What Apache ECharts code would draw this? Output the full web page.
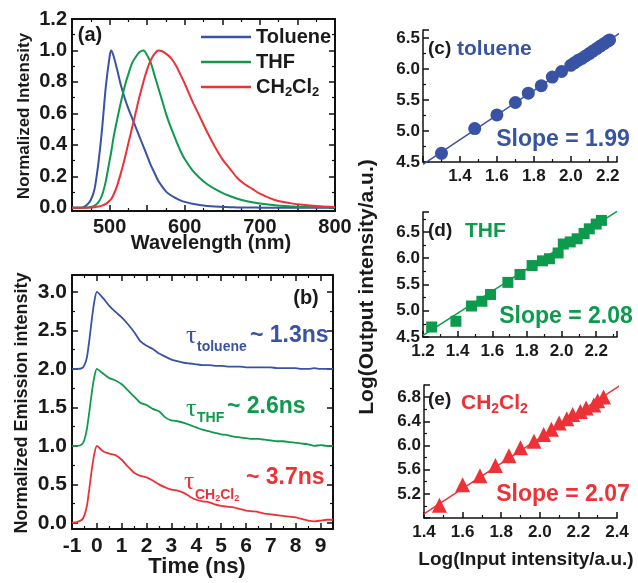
<!DOCTYPE html>
<html>
<head>
<meta charset="utf-8">
<script src="https://cdn.jsdelivr.net/npm/echarts@6/dist/echarts.min.js"></script>
<style>
  html, body { margin: 0; padding: 0; background: #fff; }
  #chart { width: 638px; height: 583px; }
</style>
</head>
<body>
<div id="chart"></div>
<script>
// ---- data ----
const solvents = ['Toluene', 'THF', 'CH2Cl2'];
const colors = ['#3953a4', '#0e9a4c', '#ec3237'];

// (a) normalized PL spectra
const wavelength = [450, 460, 465, 470, 475, 480, 485, 490, 495, 500, 502, 505, 510, 515, 520, 525, 530, 535, 540, 545,
  550, 555, 560, 565, 570, 575, 580, 585, 590, 595, 600, 610, 620, 630, 640, 650, 660, 670, 680, 690,
  700, 720, 740, 760, 780, 800];
const plToluene = [0, 0, 0.005, 0.02, 0.05, 0.12, 0.28, 0.5, 0.77, 0.96, 1.0, 0.97, 0.88, 0.78, 0.7, 0.63, 0.57, 0.51, 0.45, 0.39,
  0.33, 0.27, 0.22, 0.17, 0.135, 0.105, 0.085, 0.07, 0.057, 0.046, 0.038, 0.026, 0.018, 0.012, 0.008, 0.006, 0.004, 0.003, 0.002, 0.002,
  0.001, 0.001, 0, 0, 0, 0];
const plTHF = [0, 0, 0, 0.002, 0.006, 0.015, 0.035, 0.08, 0.17, 0.3, 0.35, 0.44, 0.56, 0.67, 0.77, 0.85, 0.92, 0.96, 0.99, 1.0,
  0.97, 0.92, 0.84, 0.76, 0.68, 0.6, 0.53, 0.47, 0.41, 0.355, 0.31, 0.24, 0.19, 0.15, 0.12, 0.095, 0.075, 0.058, 0.045, 0.035,
  0.027, 0.016, 0.01, 0.006, 0.004, 0.002];
const plCH2Cl2 = [0, 0, 0, 0, 0.002, 0.004, 0.008, 0.014, 0.025, 0.045, 0.055, 0.08, 0.14, 0.22, 0.31, 0.41, 0.51, 0.61, 0.71, 0.8,
  0.88, 0.94, 0.98, 1.0, 0.995, 0.98, 0.96, 0.93, 0.89, 0.84, 0.79, 0.68, 0.58, 0.48, 0.39, 0.31, 0.25, 0.19, 0.15, 0.12,
  0.09, 0.05, 0.03, 0.018, 0.01, 0.006];

// (b) time-resolved emission (offset curves)
const decayTime = [-1, -0.8, -0.6, -0.5, -0.4, -0.3, -0.2, -0.1, 0, 0.25, 0.5, 0.75, 1, 1.25, 1.5, 1.75, 2, 2.25, 2.5, 2.75,
  3, 3.25, 3.5, 3.75, 4, 4.25, 4.5, 4.75, 5, 5.25, 5.5, 5.75, 6, 6.25, 6.5, 6.75, 7, 7.25, 7.5, 7.75,
  8, 8.25, 8.5, 8.75, 9, 9.25, 9.5];
const decayToluene = [2.0, 2.0, 2.01, 2.05, 2.15, 2.38, 2.65, 2.88, 3.0, 2.92, 2.82, 2.74, 2.67, 2.58, 2.48, 2.36, 2.3, 2.26, 2.2, 2.16,
  2.12, 2.1, 2.08, 2.07, 2.06, 2.05, 2.05, 2.04, 2.04, 2.03, 2.03, 2.03, 2.02, 2.02, 2.02, 2.02, 2.02, 2.01, 2.01, 2.01,
  2.01, 2.0, 2.0, 2.01, 2.0, 2.0, 2.0];
const decayTHF = [1.0, 1.0, 1.02, 1.08, 1.22, 1.45, 1.7, 1.9, 2.0, 1.94, 1.88, 1.85, 1.8, 1.72, 1.64, 1.56, 1.53, 1.48, 1.45, 1.37,
  1.33, 1.32, 1.3, 1.27, 1.24, 1.21, 1.19, 1.17, 1.15, 1.14, 1.12, 1.11, 1.1, 1.09, 1.09, 1.08, 1.07, 1.06, 1.06, 1.05,
  1.04, 1.03, 1.02, 1.0, 1.01, 1.0, 1.0];
const decayCH2Cl2 = [0.0, 0.01, 0.04, 0.1, 0.22, 0.45, 0.7, 0.9, 1.0, 0.93, 0.9, 0.88, 0.82, 0.73, 0.65, 0.61, 0.59, 0.55, 0.5, 0.46,
  0.43, 0.42, 0.39, 0.34, 0.3, 0.28, 0.27, 0.24, 0.22, 0.21, 0.2, 0.18, 0.16, 0.15, 0.14, 0.12, 0.11, 0.1, 0.09, 0.08,
  0.07, 0.05, 0.03, 0.02, 0.03, 0.04, 0.04];

// (c)-(e) log output vs log input
const tolueneIn = [1.30, 1.48, 1.60, 1.70, 1.77, 1.84, 1.90, 1.95, 2.00, 2.02, 2.04, 2.06, 2.08, 2.10, 2.12, 2.14, 2.16, 2.18, 2.20, 2.21];
const tolueneOut = [4.64, 5.04, 5.26, 5.46, 5.61, 5.73, 5.87, 5.96, 6.06, 6.10, 6.14, 6.17, 6.21, 6.25, 6.29, 6.33, 6.37, 6.41, 6.45, 6.47];
const thfIn = [1.25, 1.39, 1.48, 1.54, 1.59, 1.69, 1.76, 1.83, 1.89, 1.93, 1.98, 2.01, 2.05, 2.09, 2.13, 2.16, 2.20, 2.23];
const thfOut = [4.69, 4.80, 5.09, 5.18, 5.31, 5.54, 5.69, 5.86, 5.95, 5.99, 6.10, 6.27, 6.31, 6.37, 6.47, 6.56, 6.65, 6.72];
const dcmIn = [1.48, 1.60, 1.69, 1.77, 1.84, 1.90, 1.97, 2.02, 2.06, 2.10, 2.14, 2.17, 2.21, 2.24, 2.28, 2.30, 2.33];
const dcmOut = [5.01, 5.35, 5.50, 5.67, 5.83, 5.96, 6.07, 6.18, 6.27, 6.37, 6.44, 6.51, 6.56, 6.62, 6.67, 6.74, 6.80];
// fitted lines (end points)
const tolueneFitIn = [1.2, 2.30], tolueneFitOut = [4.46, 6.65];
const thfFitIn = [1.2, 2.32], thfFitOut = [4.53, 6.89];
const dcmFitIn = [1.4, 2.42], dcmFitOut = [4.87, 7.0];
const slopes = ['1.99', '2.08', '2.07'];
const lifetimes = ['1.3', '2.6', '3.7'];

// tick labels shown on each axis
const aXLabels = ['500', '600', '700', '800'];
const aYLabels = ['0.0', '0.2', '0.4', '0.6', '0.8', '1.0', '1.2'];
const bXLabels = ['-1', '0', '1', '2', '3', '4', '5', '6', '7', '8', '9'];
const bYLabels = ['0.0', '0.5', '1.0', '1.5', '2.0', '2.5', '3.0'];
const cXLabels = ['1.4', '1.6', '1.8', '2.0', '2.2'];
const cYLabels = ['4.5', '5.0', '5.5', '6.0', '6.5'];
const dXLabels = ['1.2', '1.4', '1.6', '1.8', '2.0', '2.2'];
const dYLabels = ['4.5', '5.0', '5.5', '6.0', '6.5'];
const eXLabels = ['1.4', '1.6', '1.8', '2.0', '2.2', '2.4'];
const eYLabels = ['5.2', '5.6', '6.0', '6.4', '6.8'];

const FONT = '"Liberation Sans", Arial, sans-serif';
const zip = (xs, ys) => xs.map((x, i) => [x, ys[i]]);

function labelFmt(list, digits) {
  return function (v) {
    const s = v.toFixed(digits);
    return (list.indexOf(s) >= 0 && Math.abs(v - parseFloat(s)) < 1e-6) ? s : '';
  };
}

function makeAxis(o) {
  const ax = {
    type: 'value',
    gridIndex: o.grid,
    position: o.position,
    min: o.min,
    max: o.max,
    splitLine: { show: false },
    axisLine: { show: true, onZero: false, lineStyle: { color: '#111', width: o.lw || 2 } },
    axisTick: { show: true, inside: true, length: 6, lineStyle: { color: '#111', width: 1.5 } },
    minorTick: { show: true, splitNumber: 2, length: 3, lineStyle: { color: '#111', width: 1.2 } },
    axisLabel: {
      show: !!o.labels,
      fontFamily: FONT, fontWeight: 'bold', fontSize: o.fs || 20, color: '#1a1a1a',
      margin: o.margin || 6,
      formatter: o.labels ? labelFmt(o.labels, o.digits) : undefined
    }
  };
  if (o.interval !== undefined) ax.interval = o.interval;
  if (o.splitNumber !== undefined) ax.splitNumber = o.splitNumber;
  return ax;
}

const chart = echarts.init(document.getElementById('chart'));

const lineSeries = (name, xs, ys, ci, xi, width, smooth) => ({
  name: name, type: 'line', xAxisIndex: xi, yAxisIndex: xi,
  data: zip(xs, ys), showSymbol: false, smooth: smooth,
  lineStyle: { color: colors[ci], width: width }, itemStyle: { color: colors[ci] },
  emphasis: { disabled: true }
});
const scatterSeries = (xs, ys, ci, xi, symbol, size) => ({
  type: 'scatter', xAxisIndex: xi, yAxisIndex: xi, data: zip(xs, ys),
  symbol: symbol, symbolSize: size, itemStyle: { color: colors[ci], opacity: 1 }, z: 3
});
const fitSeries = (xs, ys, ci, xi) => ({
  type: 'line', xAxisIndex: xi, yAxisIndex: xi, data: zip(xs, ys), clip: false,
  showSymbol: false, lineStyle: { color: colors[ci], width: 1.5 }, z: 2
});

const txt = (text, x, y, size, fill, extra) => Object.assign({
  type: 'text', x: x, y: y,
  style: Object.assign({
    text: text, font: `bold ${size}px ${FONT}`, fill: fill,
    align: 'left', verticalAlign: 'middle', textAlign: 'left', textVerticalAlign: 'middle'
  }, extra && extra.style)
}, extra && extra.el);
const center = { style: { align: 'center', textAlign: 'center' } };
const vert = { style: { align: 'center', textAlign: 'center' }, el: { rotation: Math.PI / 2 } };
const subRich = (size, fill) => ({
  m: { fontSize: size, fontWeight: 'bold', fontFamily: FONT, fill: fill, color: fill },
  s: { fontSize: Math.round(size * 0.65), fontWeight: 'bold', fontFamily: FONT, fill: fill, color: fill, padding: [Math.round(size * 0.55), 0, 0, 0] }
});
const dcmRich = '{m|CH}{s|2}{m|Cl}{s|2}';
const tau = (x, y, c) => txt('τ', x, y, 26, colors[c], { style: { font: `26px "Liberation Serif", serif` } });

const option = {
  animation: false,
  backgroundColor: '#fff',
  grid: [
    { left: 72, top: 19, width: 263, height: 192 },
    { left: 72, top: 275, width: 261, height: 254 },
    { left: 423, top: 30, width: 194, height: 132 },
    { left: 423, top: 212, width: 194, height: 125 },
    { left: 424, top: 385, width: 193, height: 133 }
  ],
  xAxis: [
    makeAxis({ grid: 0, position: 'bottom', min: 450, max: 800, interval: 50, labels: aXLabels, digits: 0 }),
    makeAxis({ grid: 0, position: 'top', min: 450, max: 800, interval: 50 }),
    makeAxis({ grid: 1, position: 'bottom', min: -1, max: 9.5, interval: 1, labels: bXLabels, digits: 0, fs: 21, margin: 7 }),
    makeAxis({ grid: 1, position: 'top', min: -1, max: 9.5, interval: 1 }),
    makeAxis({ grid: 2, position: 'bottom', min: 1.2, max: 2.25, interval: 0.2, labels: cXLabels, digits: 1, fs: 17, lw: 1.5 }),
    makeAxis({ grid: 3, position: 'bottom', min: 1.2, max: 2.32, interval: 0.2, labels: dXLabels, digits: 1, fs: 17, lw: 1.5 }),
    makeAxis({ grid: 4, position: 'bottom', min: 1.4, max: 2.4, interval: 0.2, labels: eXLabels, digits: 1, fs: 17, lw: 1.5 })
  ],
  yAxis: [
    makeAxis({ grid: 0, position: 'left', min: -0.02, max: 1.2, splitNumber: 6, labels: aYLabels, digits: 1, margin: 5 }),
    makeAxis({ grid: 0, position: 'right', min: -0.02, max: 1.2, splitNumber: 6 }),
    makeAxis({ grid: 1, position: 'left', min: -0.08, max: 3.22, splitNumber: 6, labels: bYLabels, digits: 1, fs: 21, margin: 5 }),
    makeAxis({ grid: 1, position: 'right', min: -0.08, max: 3.22, splitNumber: 6 }),
    makeAxis({ grid: 2, position: 'left', min: 4.5, max: 6.63, interval: 0.5, labels: cYLabels, digits: 1, fs: 17, lw: 1.5, margin: 3 }),
    makeAxis({ grid: 3, position: 'left', min: 4.5, max: 6.88, interval: 0.5, labels: dYLabels, digits: 1, fs: 17, lw: 1.5, margin: 3 }),
    makeAxis({ grid: 4, position: 'left', min: 4.8, max: 7.0, interval: 0.4, labels: eYLabels, digits: 1, fs: 17, lw: 1.5, margin: 3 })
  ],
  legend: {
    data: solvents, orient: 'vertical', left: 196, top: 22, itemWidth: 50, itemHeight: 2.5, itemGap: 5,
    icon: 'rect', selectedMode: false,
    formatter: n => n === 'CH2Cl2' ? dcmRich : '{m|' + n + '}',
    textStyle: { color: '#1a1a1a', rich: subRich(20, '#1a1a1a') }
  },
  series: [
    lineSeries('Toluene', wavelength, plToluene, 0, 0, 2, 0.3),
    lineSeries('THF', wavelength, plTHF, 1, 0, 2, 0.3),
    lineSeries('CH2Cl2', wavelength, plCH2Cl2, 2, 0, 2, 0.3),
    lineSeries('toluene decay', decayTime, decayToluene, 0, 2, 1.8, 0.2),
    lineSeries('THF decay', decayTime, decayTHF, 1, 2, 1.8, 0.2),
    lineSeries('CH2Cl2 decay', decayTime, decayCH2Cl2, 2, 2, 1.8, 0.2),
    fitSeries(tolueneFitIn, tolueneFitOut, 0, 4),
    scatterSeries(tolueneIn, tolueneOut, 0, 4, 'circle', 13),
    fitSeries(thfFitIn, thfFitOut, 1, 5),
    scatterSeries(thfIn, thfOut, 1, 5, 'rect', 11),
    fitSeries(dcmFitIn, dcmFitOut, 2, 6),
    scatterSeries(dcmIn, dcmOut, 2, 6, 'triangle', 15)
  ],
  graphic: [
    txt('(a)', 90, 35, 20, '#1a1a1a', center),
    txt('(b)', 306, 298, 20, '#1a1a1a', center),
    txt('Wavelength (nm)', 211, 243, 20, '#1a1a1a', center),
    txt('Time (ns)', 197, 567, 22, '#1a1a1a', center),
    txt('Normalized Intensity', 24, 116, 17, '#1a1a1a', vert),
    txt('Normalized Emission intensity', 22, 403, 18, '#1a1a1a', vert),
    txt('Log(Output intensity/a.u.)', 367, 287, 21, '#1a1a1a', vert),
    txt('Log(Input intensity/a.u.)', 526, 560, 19, '#1a1a1a', center),
    // panel tags c-e
    txt('(c)', 428, 49, 19, '#1a1a1a'),
    txt('toluene', 457, 49, 21, colors[0]),
    txt('(d)', 428, 231, 19, '#1a1a1a'),
    txt('THF', 465, 231, 21, colors[1]),
    txt('(e)', 428, 400, 19, '#1a1a1a'),
    txt(dcmRich, 461, 403, 21, colors[2], { style: { rich: subRich(21, colors[2]) } }),
    txt('Slope = ' + slopes[0], 563, 140, 23, colors[0], center),
    txt('Slope = ' + slopes[1], 566, 317, 23, colors[1], center),
    txt('Slope = ' + slopes[2], 563, 495, 23, colors[2], center),
    // lifetimes
    tau(186, 336, 0),
    txt('toluene', 197, 347, 14, colors[0]),
    txt('~ ' + lifetimes[0] + 'ns', 250, 336, 23, colors[0]),
    tau(186, 409, 1),
    txt('THF', 197, 418, 14, colors[1]),
    txt('~ ' + lifetimes[1] + 'ns', 227, 407, 23, colors[1]),
    tau(184, 482, 2),
    txt(dcmRich, 195, 495, 14, colors[2], { style: { rich: subRich(14, colors[2]) } }),
    txt('~ ' + lifetimes[2] + 'ns', 246, 478, 23, colors[2])
  ]
};

chart.setOption(option);
</script>
</body>
</html>
